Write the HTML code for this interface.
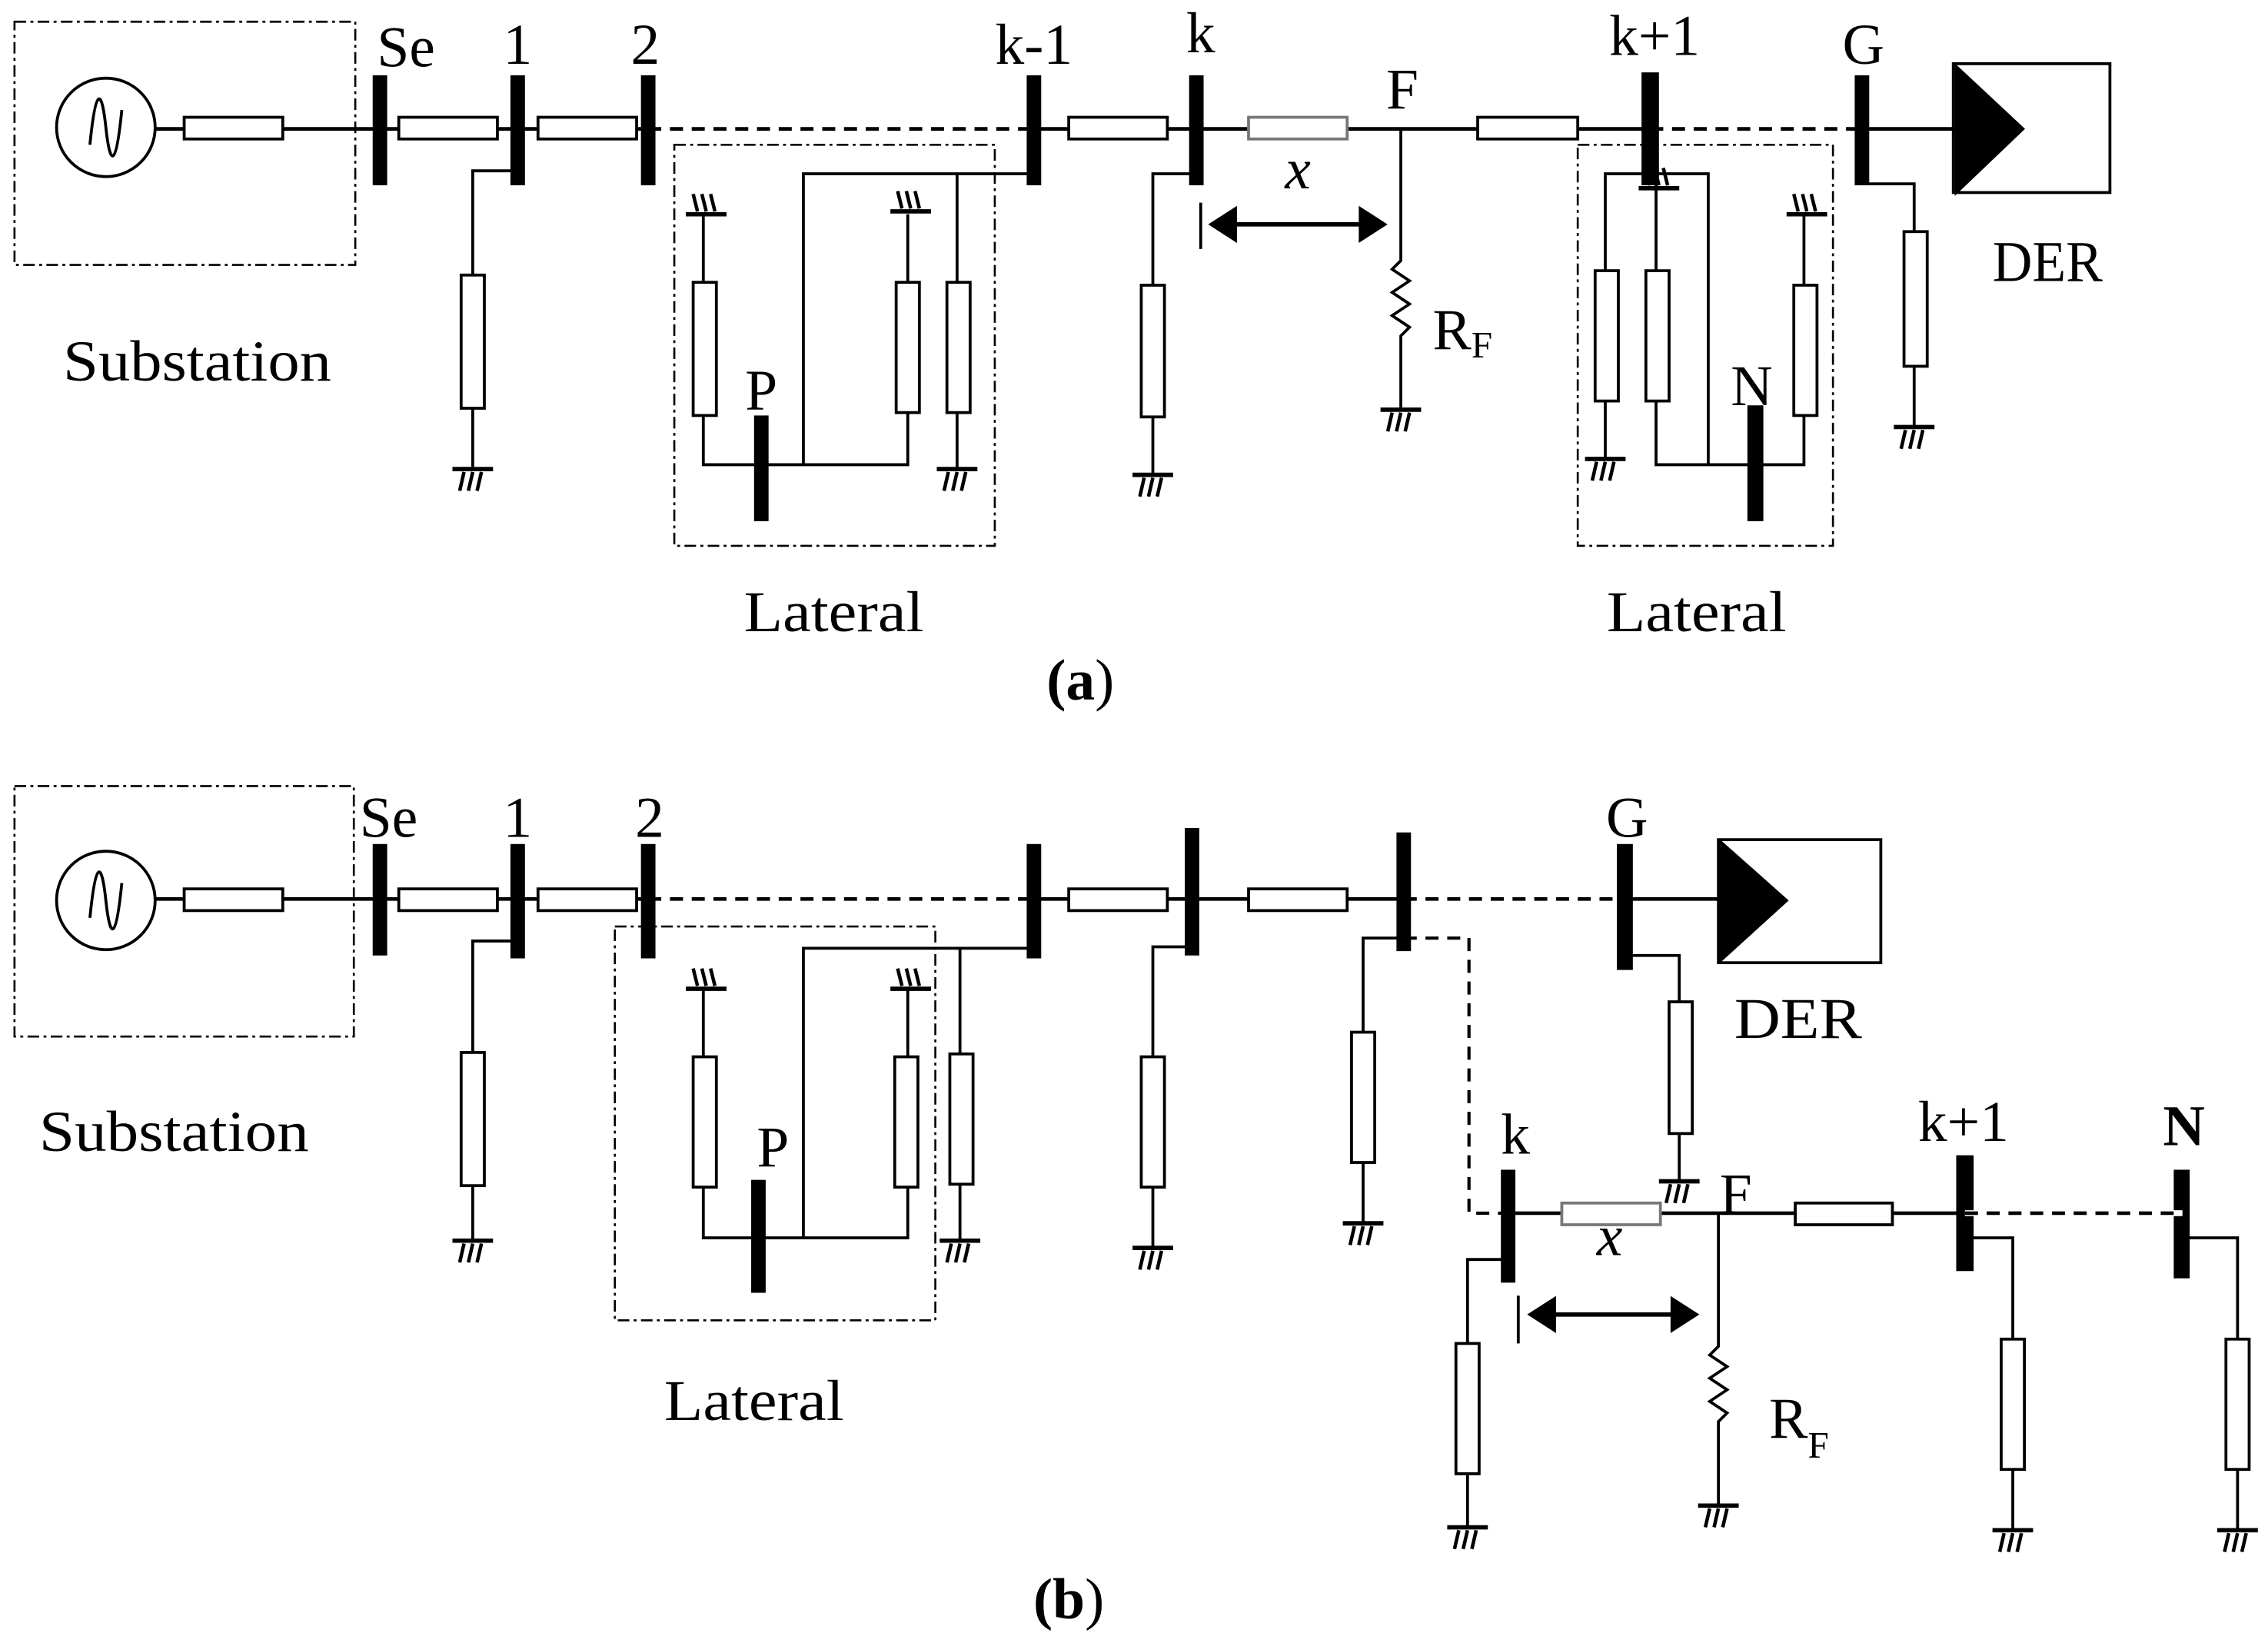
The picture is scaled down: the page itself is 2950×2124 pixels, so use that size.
<!DOCTYPE html>
<html><head><meta charset="utf-8"><style>
html,body{margin:0;padding:0;background:#fff;}
svg{display:block;}
text{font-family:"Liberation Serif",serif;fill:#000;}
</style></head><body>
<svg width="2950" height="2124" viewBox="0 0 1564 1128" preserveAspectRatio="none" xmlns="http://www.w3.org/2000/svg">
<defs>
<g id="gd" stroke="#000" stroke-width="2.4" fill="none">
<line x1="-14" y1="0" x2="14" y2="0" stroke-width="3"/>
<line x1="-6" y1="2" x2="-9" y2="15"/><line x1="0" y1="2" x2="-3" y2="15"/><line x1="6" y1="2" x2="3" y2="15"/>
</g>
<g id="gu" stroke="#000" stroke-width="2.4" fill="none">
<line x1="-14" y1="0" x2="14" y2="0" stroke-width="3"/>
<line x1="-6" y1="-2" x2="-9" y2="-14"/><line x1="0" y1="-2" x2="-3" y2="-14"/><line x1="6" y1="-2" x2="3" y2="-14"/>
</g>
</defs>
<g stroke="#000" stroke-width="2" fill="none">
<!-- ===== (a) ===== -->
<rect x="10" y="15" width="235" height="168" stroke-dasharray="8,3,2,3" stroke-width="1.4"/>
<circle cx="73" cy="88" r="34"/>
<path d="M62,100 C66,60 70,60 73,88 C76,116 80,116 84,76"/>
<line x1="107" y1="89" x2="713" y2="89" stroke-width="2.5"/>
<line x1="447" y1="89" x2="713" y2="89" stroke="#fff" stroke-width="4"/>
<line x1="447" y1="89" x2="713" y2="89" stroke-dasharray="9,6" stroke-width="2.5"/>
<line x1="713" y1="89" x2="1138" y2="89" stroke-width="2.5"/>
<line x1="1138" y1="89" x2="1284" y2="89" stroke-dasharray="9,6" stroke-width="2.5"/>
<line x1="1284" y1="89" x2="1349" y2="89" stroke-width="2.5"/>
<g fill="#fff">
<rect x="127" y="81" width="68" height="15"/><rect x="275" y="81" width="68" height="15"/><rect x="371" y="81" width="68" height="15"/>
<rect x="737" y="81" width="68" height="15"/><rect x="861" y="81" width="68" height="15" stroke="#777"/><rect x="1019" y="81" width="69" height="15"/>
</g>
<rect x="1347" y="44" width="108" height="89"/>
<polygon points="1349,46 1395,89 1349,133" fill="#000"/>
<g fill="#000" stroke="none">
<rect x="257" y="52" width="10" height="76"/><rect x="352" y="52" width="10" height="76"/><rect x="442" y="52" width="10" height="76"/>
<rect x="708" y="52" width="10" height="76"/><rect x="820" y="52" width="10" height="76"/><rect x="1132" y="50" width="12" height="78"/>
<rect x="1279" y="52" width="10" height="76"/><rect x="520" y="287" width="10" height="73"/><rect x="1205" y="280" width="11" height="80"/>
</g>
<polyline points="357,118 326,118 326,324"/><rect x="318" y="190" width="16" height="92" fill="#fff"/><use href="#gd" x="326" y="324"/>
<rect x="465" y="100" width="221" height="277" stroke-dasharray="8,3,2,3" stroke-width="1.4"/>
<polyline points="713,120 554,120 554,321"/>
<line x1="660" y1="120" x2="660" y2="323"/><rect x="653" y="195" width="16" height="90" fill="#fff"/><use href="#gd" x="660" y="324"/>
<polyline points="485,148 485,321 626,321 626,148"/>
<rect x="478" y="195" width="16" height="92" fill="#fff"/><rect x="618" y="195" width="16" height="90" fill="#fff"/>
<use href="#gu" x="487" y="148"/><use href="#gu" x="628" y="146"/>
<polyline points="825,120 795,120 795,328"/><rect x="787" y="197" width="16" height="91" fill="#fff"/><use href="#gd" x="795" y="328"/>
<line x1="828" y1="140" x2="828" y2="172"/>
<line x1="850" y1="155" x2="940" y2="155" stroke-width="3"/>
<polygon points="835,155 852,144 852,166" fill="#000"/><polygon points="955,155 938,144 938,166" fill="#000"/>
<polyline points="966,89 966,180 960,186 972,194 960,202 972,210 960,218 972,226 966,232 966,283"/><use href="#gd" x="966" y="283"/>
<rect x="1088" y="100" width="176" height="277" stroke-dasharray="8,3,2,3" stroke-width="1.4"/>
<polyline points="1107,317 1107,120 1178,120 1178,321"/>
<rect x="1100" y="187" width="16" height="90" fill="#fff"/><use href="#gd" x="1107" y="317"/>
<polyline points="1142,125 1142,321 1244,321 1244,148"/>
<use href="#gu" x="1144" y="130"/>
<rect x="1135" y="187" width="16" height="90" fill="#fff"/><rect x="1237" y="197" width="16" height="90" fill="#fff"/>
<use href="#gu" x="1246" y="148"/>
<polyline points="1284,127 1320,127 1320,295"/><rect x="1313" y="160" width="16" height="93" fill="#fff"/><use href="#gd" x="1320" y="295"/>

<!-- ===== (b) ===== -->
<rect x="10" y="543" width="234" height="173" stroke-dasharray="8,3,2,3" stroke-width="1.4"/>
<circle cx="73" cy="622" r="34"/>
<path d="M62,634 C66,594 70,594 73,622 C76,650 80,650 84,610"/>
<line x1="107" y1="621" x2="447" y2="621" stroke-width="2.5"/>
<line x1="447" y1="621" x2="713" y2="621" stroke-dasharray="9,6" stroke-width="2.5"/>
<line x1="713" y1="621" x2="968" y2="621" stroke-width="2.5"/>
<line x1="968" y1="621" x2="1120" y2="621" stroke-dasharray="9,6" stroke-width="2.5"/>
<line x1="1120" y1="621" x2="1187" y2="621" stroke-width="2.5"/>
<g fill="#fff">
<rect x="127" y="614" width="68" height="15"/><rect x="275" y="614" width="68" height="15"/><rect x="371" y="614" width="68" height="15"/>
<rect x="737" y="614" width="68" height="15"/><rect x="861" y="614" width="68" height="15"/>
</g>
<rect x="1185" y="580" width="112" height="85"/>
<polygon points="1187,582 1232,622 1187,663" fill="#000"/>
<g fill="#000" stroke="none">
<rect x="257" y="583" width="10" height="77"/><rect x="352" y="583" width="10" height="79"/><rect x="442" y="583" width="10" height="79"/>
<rect x="708" y="583" width="10" height="79"/><rect x="817" y="572" width="10" height="88"/><rect x="963" y="575" width="10" height="82"/>
<rect x="1115" y="583" width="11" height="87"/><rect x="518" y="815" width="10" height="78"/>
<rect x="1035" y="808" width="10" height="78"/><rect x="1349" y="798" width="12" height="80"/><rect x="1499" y="808" width="11" height="75"/>
</g>
<polyline points="357,650 326,650 326,857"/><rect x="318" y="727" width="16" height="92" fill="#fff"/><use href="#gd" x="326" y="857"/>
<rect x="424" y="640" width="221" height="272" stroke-dasharray="8,3,2,3" stroke-width="1.4"/>
<polyline points="713,655 554,655 554,855"/>
<line x1="662" y1="655" x2="662" y2="857"/><rect x="655" y="728" width="16" height="90" fill="#fff"/><use href="#gd" x="662" y="857"/>
<polyline points="485,683 485,855 626,855 626,683"/>
<rect x="478" y="730" width="16" height="90" fill="#fff"/><rect x="617" y="730" width="16" height="90" fill="#fff"/>
<use href="#gu" x="487" y="683"/><use href="#gu" x="628" y="683"/>
<polyline points="822,654 795,654 795,862"/><rect x="787" y="730" width="16" height="90" fill="#fff"/><use href="#gd" x="795" y="862"/>
<polyline points="968,648 940,648 940,845"/><rect x="932" y="713" width="16" height="90" fill="#fff"/><use href="#gd" x="940" y="845"/>
<polyline points="968,648 1013,648 1013,838 1040,838" stroke-dasharray="9,6" stroke-width="2.2"/>
<polyline points="1120,660 1158,660 1158,816"/><rect x="1151" y="692" width="16" height="91" fill="#fff"/><use href="#gd" x="1158" y="816"/>
<line x1="1040" y1="838" x2="1355" y2="838" stroke-width="2.5"/>
<line x1="1355" y1="838" x2="1505" y2="838" stroke="#fff" stroke-width="4"/>
<line x1="1355" y1="838" x2="1505" y2="838" stroke-dasharray="9,6" stroke-width="2.5"/>
<rect x="1077" y="831" width="68" height="15" fill="#fff" stroke="#777"/><rect x="1238" y="831" width="67" height="15" fill="#fff"/>
<polyline points="1040,870 1012,870 1012,1055"/><rect x="1004" y="928" width="16" height="90" fill="#fff"/><use href="#gd" x="1012" y="1055"/>
<line x1="1047" y1="895" x2="1047" y2="928"/>
<line x1="1070" y1="908" x2="1155" y2="908" stroke-width="3"/>
<polygon points="1055,908 1072,897 1072,919" fill="#000"/><polygon points="1170,908 1153,897 1153,919" fill="#000"/>
<polyline points="1185,838 1185,930 1179,936 1191,944 1179,952 1191,960 1179,968 1191,976 1185,982 1185,1040"/><use href="#gd" x="1185" y="1040"/>
<polyline points="1355,855 1388,855 1388,1057"/><rect x="1380" y="925" width="16" height="90" fill="#fff"/><use href="#gd" x="1388" y="1057"/>
<polyline points="1505,855 1543,855 1543,1057"/><rect x="1535" y="925" width="16" height="90" fill="#fff"/><use href="#gd" x="1543" y="1057"/>
</g>
<!-- text (a) -->
<g font-size="40" text-anchor="middle">
<text x="280" y="46">Se</text><text x="357" y="44">1</text><text x="445" y="44">2</text><text x="713" y="44">k-1</text>
<text x="828" y="36">k</text><text x="1141" y="38">k+1</text><text x="1285" y="44">G</text><text x="967" y="75">F</text>
<text x="895" y="130" font-style="italic">x</text>
<text x="525" y="283">P</text><text x="1208" y="280">N</text>
<text x="1412" y="194" textLength="76" lengthAdjust="spacingAndGlyphs">DER</text>
<text x="136" y="263" textLength="185" lengthAdjust="spacingAndGlyphs">Substation</text>
<text x="575" y="436" textLength="124" lengthAdjust="spacingAndGlyphs">Lateral</text><text x="1170" y="436" textLength="124" lengthAdjust="spacingAndGlyphs">Lateral</text>
<text x="745" y="483"><tspan font-weight="bold">(a</tspan>)</text>
</g>
<text x="988" y="241" font-size="40">R<tspan font-size="26" dy="6">F</tspan></text>
<!-- text (b) -->
<g font-size="40" text-anchor="middle">
<text x="268" y="578">Se</text><text x="357" y="578">1</text><text x="448" y="578">2</text>
<text x="1122" y="578">G</text><text x="1240" y="717" textLength="88" lengthAdjust="spacingAndGlyphs">DER</text>
<text x="120" y="795" textLength="186" lengthAdjust="spacingAndGlyphs">Substation</text>
<text x="533" y="806">P</text><text x="520" y="981" textLength="124" lengthAdjust="spacingAndGlyphs">Lateral</text>
<text x="1045" y="797">k</text><text x="1197" y="838">F</text><text x="1354" y="788">k+1</text>
<text x="1506" y="791" font-weight="bold">N</text>
<text x="1110" y="867" font-style="italic">x</text>
<text x="737" y="1118"><tspan font-weight="bold">(b</tspan>)</text>
</g>
<text x="1220" y="993" font-size="40">R<tspan font-size="26" dy="14">F</tspan></text>
</svg>
</body></html>
